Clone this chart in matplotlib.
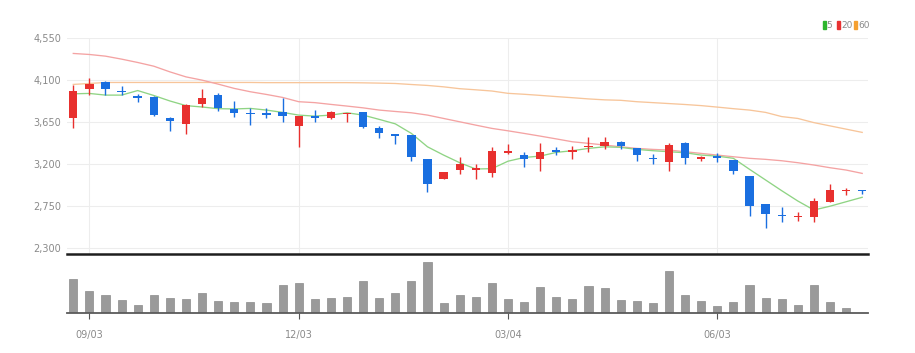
import matplotlib
matplotlib.use('Agg')
import matplotlib.pyplot as plt
import numpy as np
from matplotlib.patches import Rectangle
from matplotlib import font_manager

# ---------------- data ----------------
opens  = [3700, 4010, 4085, 3990, 3930, 3925, 3700, 3630, 3850, 3940,
          3790, 3750, 3745, 3760, 3608, 3720, 3700, 3740, 3755, 3590,
          3525, 3510, 3250, 3040, 3135, 3140, 3105, 3315, 3295, 3255,
          3350, 3325, 3380, 3395, 3440, 3370, 3268, 3225, 3422, 3250,
          3290, 3240, 3070, 2770, 2652, 2630, 2628, 2795, 2907, 2920]
highs  = [4050, 4125, 4090, 4035, 3950, 3930, 3710, 3840, 4010, 3960,
          3875, 3800, 3805, 3910, 3720, 3780, 3770, 3752, 3760, 3610,
          3528, 3515, 3255, 3118, 3270, 3200, 3380, 3415, 3330, 3430,
          3380, 3395, 3495, 3495, 3445, 3372, 3305, 3422, 3440, 3290,
          3320, 3245, 3075, 2772, 2740, 2680, 2830, 2990, 2940, 2922]
lows   = [3590, 3940, 3940, 3940, 3870, 3715, 3555, 3520, 3815, 3770,
          3710, 3620, 3690, 3655, 3380, 3655, 3680, 3655, 3590, 3485,
          3420, 3230, 2895, 3035, 3090, 3040, 3065, 3312, 3165, 3130,
          3295, 3250, 3330, 3360, 3360, 3230, 3195, 3125, 3205, 3230,
          3225, 3090, 2640, 2508, 2580, 2590, 2575, 2792, 2868, 2878]
closes = [3985, 4065, 4005, 3975, 3915, 3725, 3660, 3835, 3915, 3805,
          3745, 3735, 3730, 3715, 3715, 3695, 3755, 3750, 3595, 3530,
          3505, 3270, 2980, 3115, 3195, 3155, 3345, 3340, 3255, 3330,
          3325, 3350, 3393, 3440, 3395, 3295, 3252, 3405, 3260, 3278,
          3262, 3128, 2750, 2660, 2638, 2645, 2800, 2925, 2920, 2907]

ma5  = [3955, 3959, 3941, 3941, 3990, 3937, 3878, 3828, 3813, 3795,
        3792, 3798, 3780, 3755, 3726, 3715, 3726, 3751, 3726, 3680,
        3632, 3529, 3385, 3296, 3214, 3146, 3150, 3230, 3270, 3285,
        3325, 3343, 3368, 3385, 3379, 3357, 3343, 3332, 3321, 3296,
        3285, 3261, 3143, 3028, 2913, 2802, 2705, 2746, 2794, 2842]
ma20 = [4389, 4378, 4360, 4328, 4292, 4252, 4191, 4137, 4102, 4059,
        4013, 3977, 3948, 3916, 3870, 3860, 3841, 3823, 3804, 3780,
        3765, 3751, 3726, 3690, 3654, 3618, 3583, 3557, 3529, 3500,
        3470, 3439, 3422, 3404, 3385, 3368, 3357, 3350, 3332, 3314,
        3296, 3278, 3261, 3250, 3235, 3214, 3189, 3160, 3135, 3099]
ma60 = [4056, 4066, 4077, 4077, 4077, 4077, 4077, 4077, 4077, 4077,
        4077, 4077, 4075, 4075, 4075, 4075, 4075, 4075, 4073, 4070,
        4066, 4055, 4045, 4030, 4010, 3998, 3985, 3960, 3950, 3938,
        3925, 3913, 3900, 3890, 3885, 3870, 3860, 3850, 3840, 3828,
        3812, 3795, 3780, 3755, 3710, 3690, 3645, 3610, 3575, 3540]

volume = [102, 68, 54, 40, 26, 54, 45, 43, 62, 38,
          33, 35, 30, 86, 91, 43, 47, 49, 98, 47,
          60, 98, 155, 30, 54, 49, 90, 42, 35, 78,
          49, 44, 82, 75, 40, 38, 30, 126, 54, 38,
          22, 35, 86, 47, 44, 25, 86, 35, 15, 2]

tick_idx = [1, 14, 27, 40]
tick_labels = ['09/03', '12/03', '03/04', '06/03']
price_ticks = [2300, 2750, 3200, 3650, 4100, 4550]
legend_labels = ['5', '20', '60']

# ---------------- style ----------------
names = {f.name for f in font_manager.fontManager.ttflist}
FONT = 'Liberation Sans Narrow' if 'Liberation Sans Narrow' in names else 'DejaVu Sans'
plt.rcParams['font.family'] = [FONT, 'DejaVu Sans']

UP = '#e8302e'
DOWN = '#1a6fe0'
C_MA5 = '#8fd484'
C_MA20 = '#f4a3a3'
C_MA60 = '#f7c59a'
LABEL = '#8a8a8a'
GRID = '#ededed'

W, H = 915, 353
fig = plt.figure(figsize=(W / 100, H / 100), dpi=100)

def fx(px):
    return px / W

def fy(py):
    return 1 - py / H

xl, xr = 67, 868
ax = fig.add_axes([fx(xl), fy(254), fx(xr - xl), fy(38.3) - fy(254)])
axv = fig.add_axes([fx(xl), fy(313.3), fx(xr - xl), fy(257) - fy(313.3)])

n = len(opens)
x = np.arange(n)
xlim = (-0.39, 49.36)

# ---- main price axes ----
ax.set_xlim(*xlim)
ax.set_ylim(2232, 4552)
ax.set_yticks(price_ticks)
ax.set_yticklabels([f'{v:,}' for v in price_ticks], color=LABEL, fontsize=7)
ax.set_xticks(tick_idx)
ax.tick_params(axis='x', length=0, labelbottom=False)
ax.tick_params(axis='y', length=0, pad=4)
ax.grid(True, color=GRID, lw=0.8)
ax.set_axisbelow(True)
for s in ['top', 'right', 'left']:
    ax.spines[s].set_visible(False)
ax.spines['bottom'].set_color('#1e1e1e')
ax.spines['bottom'].set_linewidth(1.8)

ax.plot(x, ma60, color=C_MA60, lw=0.95, zorder=2)
ax.plot(x, ma20, color=C_MA20, lw=0.95, zorder=2)
ax.plot(x, ma5, color=C_MA5, lw=0.95, zorder=2)

o = np.array(opens); c = np.array(closes)
hi = np.array(highs); lo = np.array(lows)
colors = [UP if cc >= oo else DOWN for oo, cc in zip(o, c)]
bottoms = np.minimum(o, c)
heights = np.maximum(np.abs(c - o), 12)
ax.vlines(x, lo, hi, colors=colors, lw=1.0, zorder=3)
ax.bar(x, heights, bottom=bottoms, width=0.52, color=colors, zorder=4, linewidth=0)

# ---- volume axes ----
axv.set_xlim(*xlim)
axv.set_ylim(0, 168.8)
axv.bar(x, volume, width=0.5, color='#9a9a9a', edgecolor='#8a8a8a', linewidth=0.5)
axv.set_yticks([])
axv.set_xticks(tick_idx)
axv.set_xticklabels(tick_labels, color=LABEL, fontsize=7)
axv.tick_params(axis='x', length=4, width=0.8, color='#555555', pad=8)
for s in ['top', 'right', 'left']:
    axv.spines[s].set_visible(False)
axv.spines['bottom'].set_color('#5a5a5a')
axv.spines['bottom'].set_linewidth(1.3)

# ---- legend ----
leg_colors = ['#2db52d', '#e83232', '#f5a030']
sq_x = [822.7, 837.0, 854.0]
tx_x = [826.6, 840.9, 857.9]
for col, sx, tx, lab in zip(leg_colors, sq_x, tx_x, legend_labels):
    fig.patches.append(Rectangle((fx(sx), fy(28.5)), fx(3), fy(21.5) - fy(28.5),
                                 transform=fig.transFigure, color=col))
    fig.text(fx(tx), fy(25), lab, color=LABEL, fontsize=6.5, va='center', ha='left')

fig.savefig('out.png', dpi=100)
